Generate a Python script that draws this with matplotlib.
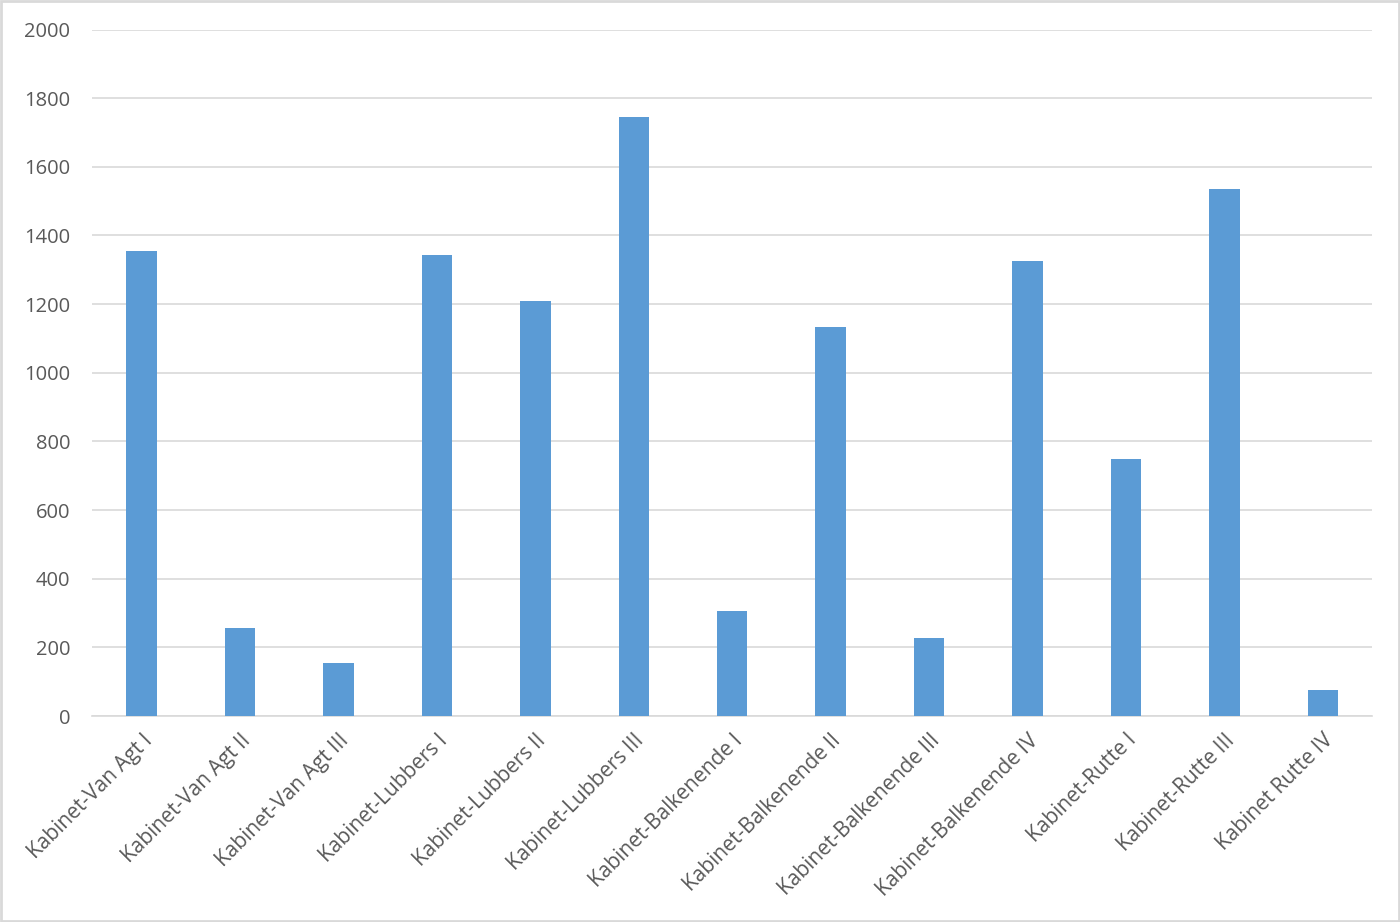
import matplotlib
matplotlib.use("Agg")
import matplotlib.pyplot as plt
from matplotlib.patches import Rectangle

categories = ["Kabinet-Van Agt I", "Kabinet-Van Agt II", "Kabinet-Van Agt III",
              "Kabinet-Lubbers I", "Kabinet-Lubbers II", "Kabinet-Lubbers III",
              "Kabinet-Balkenende I", "Kabinet-Balkenende II", "Kabinet-Balkenende III",
              "Kabinet-Balkenende IV", "Kabinet-Rutte I", "Kabinet-Rutte III",
              "Kabinet Rutte IV"]
values = [1355, 256, 154, 1342, 1208, 1744, 306, 1132, 227, 1325, 748, 1534, 76]
yticks = [0, 200, 400, 600, 800, 1000, 1200, 1400, 1600, 1800, 2000]

plt.rcParams['font.family'] = ['Open Sans', 'DejaVu Sans']

fig = plt.figure(figsize=(14, 9.22), dpi=100)
ax = fig.add_axes([0.066, 0.2234, 0.914, 0.7446])

x = list(range(len(categories)))
ax.bar(x, values, width=0.31, color="#5B9BD5", zorder=3)
ax.set_xlim(-0.5, len(categories) - 0.5)
ax.set_ylim(0, 2000)
ax.set_yticks(yticks)
ax.set_yticklabels([str(v) for v in yticks], fontsize=14.5, color="#595959")
ax.set_xticks(x)
ax.set_xticklabels(categories, rotation=45, ha='right', rotation_mode='anchor',
                   fontsize=15, color="#595959")
ax.tick_params(axis='both', length=0)
ax.tick_params(axis='y', pad=16)
ax.tick_params(axis='x', pad=10)
ax.yaxis.grid(True, color="#D9D9D9", linewidth=1.2, zorder=0)
for s in ['top', 'right', 'left']:
    ax.spines[s].set_visible(False)
ax.spines['bottom'].set_color("#D9D9D9")
ax.spines['bottom'].set_linewidth(1.2)
ax.spines['bottom'].set_zorder(1)

fig.patches.append(Rectangle((0.001, 0.001), 0.998, 0.998, transform=fig.transFigure,
                             fill=False, edgecolor="#D9D9D9", linewidth=2))

fig.savefig("out.png", dpi=100)
